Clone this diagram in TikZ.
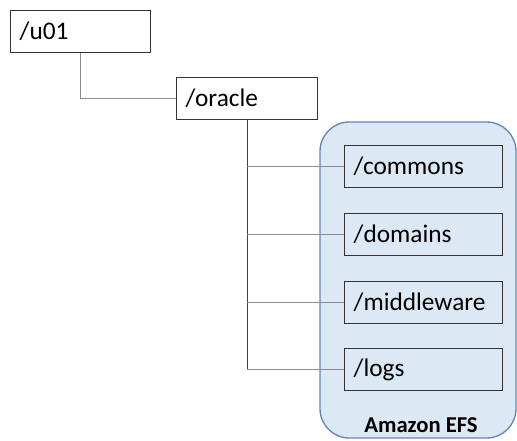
\documentclass[tikz,border=0pt]{standalone}
\usepackage{fontspec}
\setmainfont{Carlito}
\definecolor{efsfond}{RGB}{221,232,245}
\definecolor{efsbord}{RGB}{96,136,186}
\begin{document}
\begin{tikzpicture}[x=0.75pt,y=-0.75pt]
\tikzset{dossier/.style={draw=black!80, line width=1.1pt, rectangle, anchor=north west, minimum height=31.5pt, inner xsep=6.75pt, align=left, font=\fontsize{19}{22}\selectfont},
lien/.style={draw=black!45, line width=0.9pt},
tronc/.style={draw=black!75, line width=0.8pt}}
\useasboundingbox (0,0) rectangle (517,440);
\draw[fill=efsfond, draw=efsbord, line width=1pt, rounded corners=22pt] (320,122) rectangle (516,438);
\node[dossier, text width=91.5pt] (U) at (10,10) {/u01};
\node[dossier, text width=92.25pt] (O) at (176,77) {/oracle};
\node[dossier, text width=105pt] (C) at (344,145) {/commons};
\node[dossier, text width=105pt] (D) at (344,213) {/domains};
\node[dossier, text width=105pt] (M) at (344,281) {/middleware};
\node[dossier, text width=105pt] (L) at (344,348) {/logs};
\node[font=\bfseries\fontsize{17}{20}\selectfont] (efs) at (421,425) {Amazon EFS};
\draw[lien] (U.south) |- (O.west);
\draw[tronc] (O.south) -- (O.south |- L.west);
\foreach \n in {C,D,M,L}
  \draw[lien] (O.south |- \n.west) -- (\n.west);
\end{tikzpicture}
\end{document}
